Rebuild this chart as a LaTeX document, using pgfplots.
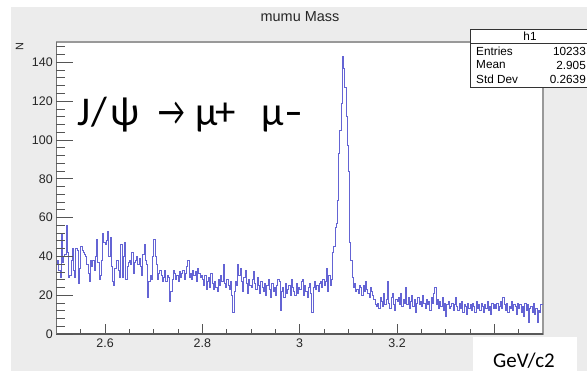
\documentclass[border=0pt]{standalone}
\usepackage{pgfplots}
\pgfplotsset{compat=1.18}
\usepackage{pgfplotstable}
\usepackage{fontspec}
\setmainfont{Liberation Sans}
\newfontfamily\calfont{Carlito}
\definecolor{canvas}{RGB}{236,236,236}
\definecolor{histblue}{RGB}{100,100,212}
\definecolor{tickgray}{RGB}{85,85,85}

\pgfplotstableread[row sep=\\]{
n\\
36\\38\\33\\29\\52\\37\\40\\41\\56\\42\\
29\\30\\38\\44\\33\\29\\44\\43\\26\\34\\
45\\43\\42\\41\\40\\36\\31\\27\\38\\35\\
38\\33\\40\\49\\37\\28\\30\\38\\52\\47\\
46\\48\\53\\40\\50\\35\\27\\25\\34\\38\\
38\\33\\29\\46\\29\\40\\47\\28\\35\\37\\
38\\36\\42\\31\\37\\38\\40\\36\\39\\35\\
30\\41\\46\\38\\36\\19\\27\\30\\28\\40\\
49\\40\\36\\28\\31\\33\\30\\27\\29\\33\\
27\\30\\29\\17\\22\\28\\33\\31\\28\\30\\
27\\32\\29\\31\\33\\28\\31\\35\\38\\29\\
31\\28\\33\\30\\32\\27\\34\\31\\29\\30\\
28\\25\\30\\23\\27\\29\\24\\31\\26\\23\\
27\\24\\22\\28\\25\\30\\27\\36\\26\\24\\
28\\25\\23\\27\\20\\11\\22\\27\\25\\36\\
30\\34\\27\\22\\29\\33\\26\\21\\28\\25\\
24\\28\\32\\26\\23\\29\\25\\21\\27\\24\\
22\\26\\20\\25\\28\\23\\19\\26\\22\\24\\
20\\25\\28\\27\\12\\22\\24\\19\\26\\21\\
23\\25\\20\\28\\24\\22\\20\\26\\21\\24\\
23\\27\\28\\20\\25\\22\\19\\24\\26\\21\\
11\\24\\27\\23\\25\\22\\26\\27\\24\\28\\
25\\27\\34\\22\\30\\25\\28\\42\\45\\55\\
57\\69\\93\\105\\119\\143\\137\\127\\112\\97\\
84\\47\\38\\29\\24\\26\\22\\23\\21\\25\\
24\\20\\25\\22\\27\\23\\21\\19\\24\\22\\
20\\18\\15\\14\\16\\13\\19\\17\\14\\21\\
15\\18\\27\\16\\13\\19\\21\\15\\12\\18\\
17\\19\\15\\21\\14\\18\\16\\24\\15\\19\\
13\\17\\20\\14\\18\\11\\16\\19\\15\\17\\
14\\20\\16\\13\\18\\15\\17\\12\\19\\16\\
21\\24\\15\\18\\13\\17\\14\\19\\12\\16\\
9\\15\\17\\13\\14\\16\\12\\15\\19\\14\\
12\\16\\13\\17\\11\\15\\14\\10\\16\\13\\
15\\12\\16\\14\\11\\17\\13\\15\\12\\16\\
14\\11\\15\\13\\17\\12\\14\\10\\16\\13\\
15\\13\\16\\12\\14\\17\\13\\19\\15\\12\\
16\\11\\14\\13\\17\\12\\15\\14\\10\\16\\
13\\15\\11\\14\\9\\16\\12\\15\\6\\13\\
14\\11\\16\\10\\13\\6\\12\\11\\15\\15\\
15\\
}\hdata

\begin{document}
\begin{tikzpicture}[x=1bp,y=1bp]
\useasboundingbox (0,0) rectangle (587,371);
\fill[white] (0,0) rectangle (587,371);
\fill[canvas] (11,0) rectangle (587,364);
\begin{axis}[
  at={(56.4bp,37bp)}, anchor=south west, scale only axis,
  width=486.6bp, height=292bp,
  xmin=2.5, xmax=3.5, ymin=0, ymax=150.5,
  axis background/.style={fill=white},
  axis line style={draw=black!40, line width=1.1bp},
  tick pos=left, tick align=inside,
  xtick={2.6,2.8,3.0,3.2,3.4}, xticklabels={2.6,2.8,3,3.2,3.4},
  minor xtick={2.55,2.65,2.7,2.75,2.85,2.9,2.95,3.05,3.1,3.15,3.25,3.3,3.35,3.45},
  ytick=\empty,
  major tick length=10bp, minor tick length=5bp,
  every tick/.style={tickgray, line width=0.8bp},
  xticklabel style={font=\fontsize{12.5}{14}\selectfont, text=black!85, inner sep=0pt, yshift=-5bp},
]
\addplot[const plot, histblue, line width=0.85bp, mark=none]
  table[x expr={2.5+0.0025*\coordindex}, y=n] {\hdata};
\draw[black!65, line width=1.1bp] (rel axis cs:0,1) -- (rel axis cs:0,0) -- (rel axis cs:1,0);
\end{axis}
\begin{axis}[
  at={(56.4bp,37bp)}, anchor=south west, scale only axis,
  width=486.6bp, height=292bp,
  xmin=2.5, xmax=3.5, ymin=0, ymax=150.5,
  axis line style={draw=none},
  tick pos=left, tick align=inside,
  xtick=\empty,
  ytick={0,20,40,60,80,100,120,140},
  minor ytick={4,8,12,16,24,28,32,36,44,48,52,56,64,68,72,76,84,88,92,96,104,108,112,116,124,128,132,136,144,148},
  major tick length=17bp, minor tick length=9bp,
  every tick/.style={tickgray, line width=0.8bp},
  yticklabel style={font=\fontsize{12.5}{14}\selectfont, text=black!85, inner sep=0pt, xshift=-3.5bp},
  /pgf/number format/assume math mode=true,
]
\addplot[draw=none, mark=none] coordinates {(2.5,0)};
\end{axis}
% title
\node[font=\fontsize{14.5}{16}\selectfont, text=black!85] at (300,354) {mumu Mass};
% y label
\node[font=\fontsize{11}{12}\selectfont, rotate=90, text=black!85] at (19.5,324.5) {N};
% stats box
\draw[fill=white, line width=0.6bp, draw=black!80] (470,342) rectangle (591,284);
\draw[line width=0.6bp, draw=black!80] (470,328) -- (591,328);
\node[font=\fontsize{11.8}{13}\selectfont] at (530,335) {h1};
\node[font=\fontsize{11.8}{13}\selectfont, anchor=west, inner sep=0pt] at (476,320) {Entries};
\node[font=\fontsize{11.8}{13}\selectfont, anchor=west, inner sep=0pt] at (476,306) {Mean};
\node[font=\fontsize{11.8}{13}\selectfont, anchor=west, inner sep=0pt] at (476,292) {Std Dev};
\node[font=\fontsize{11.8}{13}\selectfont, anchor=east, inner sep=0pt] at (586,320) {10233};
\node[font=\fontsize{11.8}{13}\selectfont, anchor=east, inner sep=0pt] at (586,306) {2.905};
\node[font=\fontsize{11.8}{13}\selectfont, anchor=east, inner sep=0pt] at (586,292) {0.2639};
% big annotation (glyphs placed at the reference positions)
\begin{scope}[every node/.style={font=\calfont\fontsize{41}{44}\selectfont, anchor=base west, inner sep=0pt}]
\node at (77,246) {J};
\node at (91,246) {/};
\node at (110,246) {ψ};
\node at (158,246) {\scalebox{0.72}[1]{→}};
\node at (195,246) {μ};
\node at (215,246) {+};
\node at (261,246) {μ};
\node at (285,246) {\scalebox{1.35}[1]{-}};
\end{scope}
% unit box
\fill[white] (473,0) rectangle (577,34);
\node[font=\calfont\fontsize{21}{24}\selectfont, anchor=base west, inner sep=0pt] at (493,4) {GeV/c2};
\end{tikzpicture}
\end{document}
